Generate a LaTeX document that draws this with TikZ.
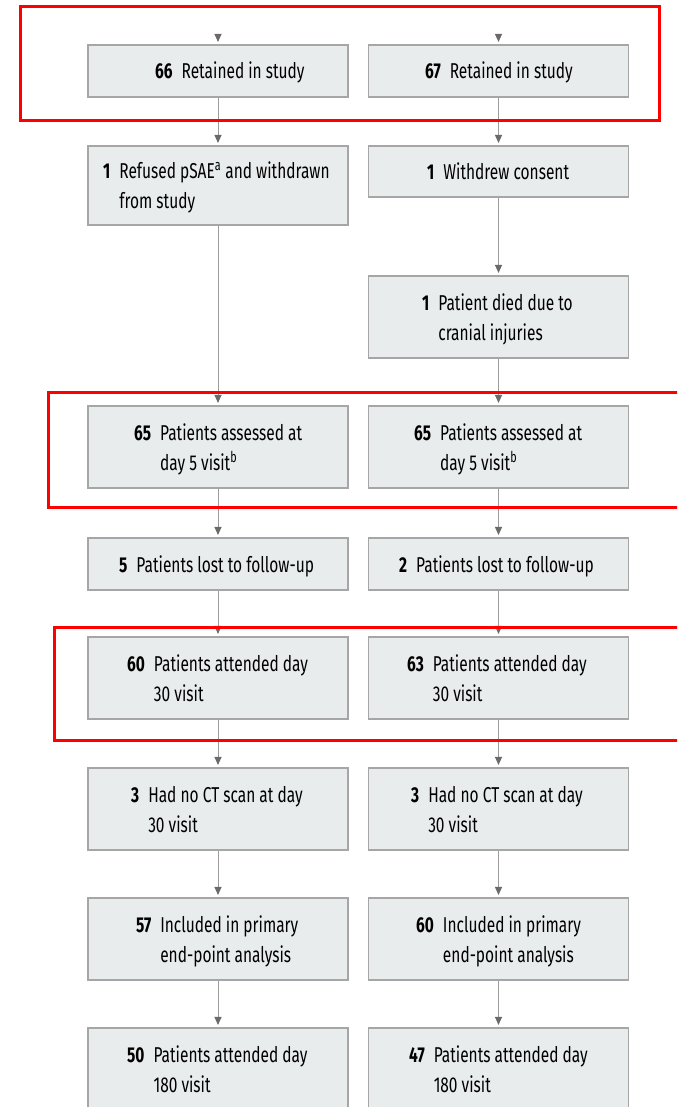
\documentclass[tikz,border=0pt]{standalone}
\usepackage{fontspec}
\setmainfont[FakeStretch=0.72]{Fira Sans}
\usetikzlibrary{arrows.meta}
\definecolor{boxfill}{HTML}{E9ECEC}
\definecolor{boxline}{HTML}{A6A6A6}
\definecolor{conn}{HTML}{9C9C9C}
\definecolor{tipc}{HTML}{6A6A6A}
\definecolor{hl}{HTML}{FF0000}
\newcommand\fctwo[3]{\begin{tabular}{@{}l@{\hspace{9pt}}l@{}}\textbf{#1} & #2\\ & #3\end{tabular}}
\newcommand\fcone[2]{\begin{tabular}{@{}l@{\hspace{9pt}}l@{}}\textbf{#1} & #2\end{tabular}}
\tikzset{
  fcbox/.style={draw=boxline, fill=boxfill, line width=1.1pt, minimum width=260pt, inner sep=0pt},
  fctext/.style={anchor=west, inner sep=0pt, yshift=-2pt, font=\fontsize{21.5}{30}\selectfont, text=black},
  fcarrow/.style={draw=conn, line width=1pt, -{Triangle[length=8pt,width=7pt,color=tipc]}, shorten >=2.5pt},
  hlbox/.style={draw=hl, line width=3pt},
}
\begin{document}
\begin{tikzpicture}[x=1pt,y=1pt]
\clip (0,0) rectangle (677,-1107);
\fill[white] (0,0) rectangle (677,-1107);
% boxes left
\node[fcbox, minimum height=52pt] (a1) at (218,-71) {};
\node[fcbox, minimum height=79pt] (b1) at (218,-185.5) {};
\node[fcbox, minimum height=82pt] (d1) at (218,-447) {};
\node[fcbox, minimum height=52pt] (e1) at (218,-564) {};
\node[fcbox, minimum height=82pt] (f1) at (218,-678) {};
\node[fcbox, minimum height=82pt] (g1) at (218,-809) {};
\node[fcbox, minimum height=82pt] (h1) at (218,-939) {};
\node[fcbox, minimum height=82pt] (i1) at (218,-1069) {};
% boxes right
\node[fcbox, minimum height=52pt] (a2) at (498.5,-71) {};
\node[fcbox, minimum height=51pt] (b2) at (498.5,-171.5) {};
\node[fcbox, minimum height=82pt] (c2) at (498.5,-317) {};
\node[fcbox, minimum height=82pt] (d2) at (498.5,-447) {};
\node[fcbox, minimum height=52pt] (e2) at (498.5,-564) {};
\node[fcbox, minimum height=82pt] (f2) at (498.5,-678) {};
\node[fcbox, minimum height=82pt] (g2) at (498.5,-809) {};
\node[fcbox, minimum height=82pt] (h2) at (498.5,-939) {};
\node[fcbox, minimum height=82pt] (i2) at (498.5,-1069) {};
% texts left
\node[fctext] (ta1) at (155,-71) {\fcone{66}{Retained in study}};
\node[fctext] (tb1) at (103,-185.5) {\fctwo{1}{Refused pSAE\textsuperscript{a} and withdrawn}{from study}};
\node[fctext] (td1) at (134,-447) {\fctwo{65}{Patients assessed at}{day 5 visit\textsuperscript{b}}};
\node[fctext] (te1) at (119,-564) {\fcone{5}{Patients lost to follow-up}};
\node[fctext] (tf1) at (127,-678) {\fctwo{60}{Patients attended day}{30 visit}};
\node[fctext] (tg1) at (131,-809) {\fctwo{3}{Had no CT scan at day}{30 visit}};
\node[fctext] (th1) at (136,-939) {\fctwo{57}{Included in primary}{end-point analysis}};
\node[fctext] (ti1) at (127,-1069) {\fctwo{50}{Patients attended day}{180 visit}};
% texts right
\node[fctext] (ta2) at (425,-71) {\fcone{67}{Retained in study}};
\node[fctext] (tb2) at (427,-171.5) {\fcone{1}{Withdrew consent}};
\node[fctext] (tc2) at (422,-317) {\fctwo{1}{Patient died due to}{cranial injuries}};
\node[fctext] (td2) at (414,-447) {\fctwo{65}{Patients assessed at}{day 5 visit\textsuperscript{b}}};
\node[fctext] (te2) at (399,-564) {\fcone{2}{Patients lost to follow-up}};
\node[fctext] (tf2) at (407,-678) {\fctwo{63}{Patients attended day}{30 visit}};
\node[fctext] (tg2) at (411,-809) {\fctwo{3}{Had no CT scan at day}{30 visit}};
\node[fctext] (th2) at (416,-939) {\fctwo{60}{Included in primary}{end-point analysis}};
\node[fctext] (ti2) at (409,-1069) {\fctwo{47}{Patients attended day}{180 visit}};
% connectors
\coordinate (s1) at (218,-34);
\coordinate (s2) at (498.5,-34);
\draw[fcarrow] (s1) -- (a1);
\draw[fcarrow] (a1) -- (b1);
\draw[fcarrow] (b1) -- (d1);
\draw[fcarrow] (d1) -- (e1);
\draw[fcarrow] (e1) -- (f1);
\draw[fcarrow] (f1) -- (g1);
\draw[fcarrow] (g1) -- (h1);
\draw[fcarrow] (h1) -- (i1);
\draw[fcarrow] (s2) -- (a2);
\draw[fcarrow] (a2) -- (b2);
\draw[fcarrow] (b2) -- (c2);
\draw[fcarrow] (c2) -- (d2);
\draw[fcarrow] (d2) -- (e2);
\draw[fcarrow] (e2) -- (f2);
\draw[fcarrow] (f2) -- (g2);
\draw[fcarrow] (g2) -- (h2);
\draw[fcarrow] (h2) -- (i2);
% highlight frames
\draw[hlbox] (20,-7) rectangle (659,-121);
\draw[hlbox] (48,-392) rectangle (690,-507);
\draw[hlbox] (54,-627) rectangle (690,-740);
\end{tikzpicture}
\end{document}
